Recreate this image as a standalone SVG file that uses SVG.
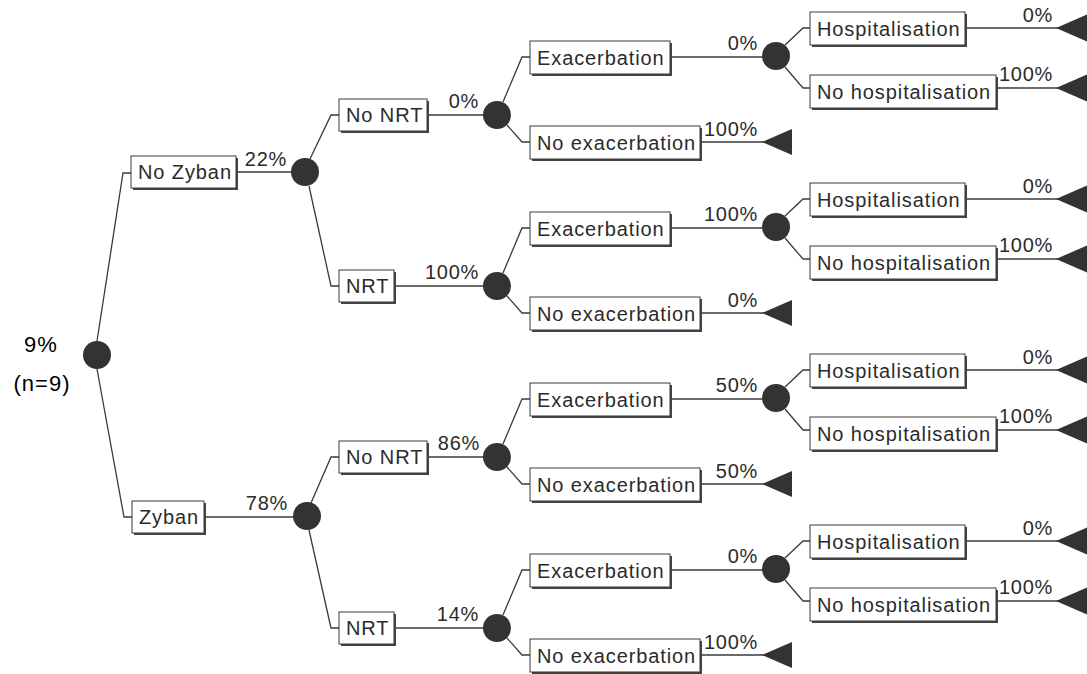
<svg xmlns="http://www.w3.org/2000/svg" width="1087" height="674" viewBox="0 0 1087 674">
<style>
  .ln{fill:none;stroke:#3a3a3a;stroke-width:1.3}
  .sh{fill:#444}
  .bx{fill:#fff;stroke:#3a3a3a;stroke-width:1}
  .t{font-family:"Liberation Sans",Arial,sans-serif;font-size:20px;letter-spacing:0.9px;fill:#2b2b2b}
  .p{font-family:"Liberation Sans",Arial,sans-serif;font-size:20px;letter-spacing:0.7px;fill:#2b2b2b;text-anchor:end}
  .c{fill:#333}
  .tri{fill:#333}
  .big{font-family:"Liberation Sans",Arial,sans-serif;font-size:22px;letter-spacing:1px;fill:#000;text-anchor:middle}
</style>
<defs>
  <g id="sec-conn">
    <polyline class="ln" points="503,102 522,57 530,57"/>
    <polyline class="ln" points="507,125 522,142 530,142"/>
    <line class="ln" x1="670" y1="57" x2="764" y2="57"/>
    <line class="ln" x1="700" y1="142" x2="764" y2="142"/>
    <polyline class="ln" points="785,45 803,28 810,28"/>
    <polyline class="ln" points="785,67 803,88 810,88"/>
    <line class="ln" x1="965" y1="28" x2="1058" y2="28"/>
    <line class="ln" x1="996" y1="88" x2="1058" y2="88"/>
  </g>
  <g id="sec-nodes">
    <circle class="c" cx="497" cy="115" r="14"/>
    <rect class="sh" x="532" y="43" width="140" height="33"/>
    <rect class="bx" x="530" y="41" width="140" height="33"/>
    <text class="t" x="537" y="65">Exacerbation</text>
    <rect class="sh" x="532" y="128" width="170" height="33"/>
    <rect class="bx" x="530" y="126" width="170" height="33"/>
    <text class="t" x="537" y="150">No exacerbation</text>
    <polygon class="tri" points="762,142 792,129 792,155"/>
    <circle class="c" cx="776" cy="56" r="14"/>
    <rect class="sh" x="812" y="14" width="155" height="33"/>
    <rect class="bx" x="810" y="12" width="155" height="33"/>
    <text class="t" x="817" y="36">Hospitalisation</text>
    <polygon class="tri" points="1056,28 1088,14 1088,42"/>
    <rect class="sh" x="812" y="77" width="186" height="33"/>
    <rect class="bx" x="810" y="75" width="186" height="33"/>
    <text class="t" x="817" y="99">No hospitalisation</text>
    <polygon class="tri" points="1056,88 1088,74 1088,102"/>
  </g>
</defs>

<g id="connectors">
  <polyline class="ln" points="97,341 123,173 131,173"/>
  <polyline class="ln" points="97,369 124,517 132,517"/>
  <line class="ln" x1="236" y1="172" x2="293" y2="172"/>
  <line class="ln" x1="204" y1="517" x2="294" y2="517"/>
  <polyline class="ln" points="310,159 331,115 339,115"/>
  <polyline class="ln" points="309,186 331,286 339,286"/>
  <polyline class="ln" points="311,503 331,457 339,457"/>
  <polyline class="ln" points="309,530 331,628 339,628"/>
  <line class="ln" x1="427" y1="115" x2="485" y2="115"/>
  <line class="ln" x1="394" y1="286" x2="485" y2="286"/>
  <line class="ln" x1="427" y1="457" x2="485" y2="457"/>
  <line class="ln" x1="394" y1="628" x2="485" y2="628"/>
  <use href="#sec-conn"/>
  <use href="#sec-conn" transform="translate(0,171)"/>
  <use href="#sec-conn" transform="translate(0,342)"/>
  <use href="#sec-conn" transform="translate(0,513)"/>
</g>

<g id="labels">
  <text class="big" x="41" y="352">9%</text>
  <text class="big" x="42" y="391">(n=9)</text>
  <text class="p" x="287" y="166">22%</text>
  <text class="p" x="288" y="510">78%</text>
  <text class="p" x="479" y="108">0%</text>
  <text class="p" x="479" y="279">100%</text>
  <text class="p" x="480" y="450">86%</text>
  <text class="p" x="479" y="621">14%</text>
  <text class="p" x="758" y="50">0%</text>
  <text class="p" x="758" y="136">100%</text>
  <text class="p" x="758" y="221">100%</text>
  <text class="p" x="758" y="307">0%</text>
  <text class="p" x="758" y="392">50%</text>
  <text class="p" x="758" y="478">50%</text>
  <text class="p" x="758" y="563">0%</text>
  <text class="p" x="758" y="649">100%</text>
  <text class="p" x="1053" y="22">0%</text>
  <text class="p" x="1053" y="81">100%</text>
  <text class="p" x="1053" y="193">0%</text>
  <text class="p" x="1053" y="252">100%</text>
  <text class="p" x="1053" y="364">0%</text>
  <text class="p" x="1053" y="423">100%</text>
  <text class="p" x="1053" y="535">0%</text>
  <text class="p" x="1053" y="594">100%</text>
</g>

<g id="root"><circle class="c" cx="97" cy="355" r="14"/></g>
<g id="no-zyban">
  <rect class="sh" x="133" y="158" width="105" height="32"/>
  <rect class="bx" x="131" y="156" width="105" height="32"/>
  <text class="t" x="138" y="179">No Zyban</text>
</g>
<g id="zyban">
  <rect class="sh" x="134" y="503" width="72" height="32"/>
  <rect class="bx" x="132" y="501" width="72" height="32"/>
  <text class="t" x="139" y="524">Zyban</text>
</g>
<g id="chance-no-zyban"><circle class="c" cx="305" cy="172" r="14"/></g>
<g id="chance-zyban"><circle class="c" cx="307" cy="516" r="14"/></g>

<g id="nz-no-nrt">
  <rect class="sh" x="341" y="101" width="88" height="32"/>
  <rect class="bx" x="339" y="99" width="88" height="32"/>
  <text class="t" x="346" y="122">No NRT</text>
</g>
<g id="nz-nrt">
  <rect class="sh" x="341" y="272" width="55" height="32"/>
  <rect class="bx" x="339" y="270" width="55" height="32"/>
  <text class="t" x="346" y="293">NRT</text>
</g>
<g id="z-no-nrt">
  <rect class="sh" x="341" y="443" width="88" height="32"/>
  <rect class="bx" x="339" y="441" width="88" height="32"/>
  <text class="t" x="346" y="464">No NRT</text>
</g>
<g id="z-nrt">
  <rect class="sh" x="341" y="614" width="55" height="32"/>
  <rect class="bx" x="339" y="612" width="55" height="32"/>
  <text class="t" x="346" y="635">NRT</text>
</g>

<g id="nz-no-nrt-subtree"><use href="#sec-nodes"/></g>
<g id="nz-nrt-subtree"><use href="#sec-nodes" transform="translate(0,171)"/></g>
<g id="z-no-nrt-subtree"><use href="#sec-nodes" transform="translate(0,342)"/></g>
<g id="z-nrt-subtree"><use href="#sec-nodes" transform="translate(0,513)"/></g>
</svg>
